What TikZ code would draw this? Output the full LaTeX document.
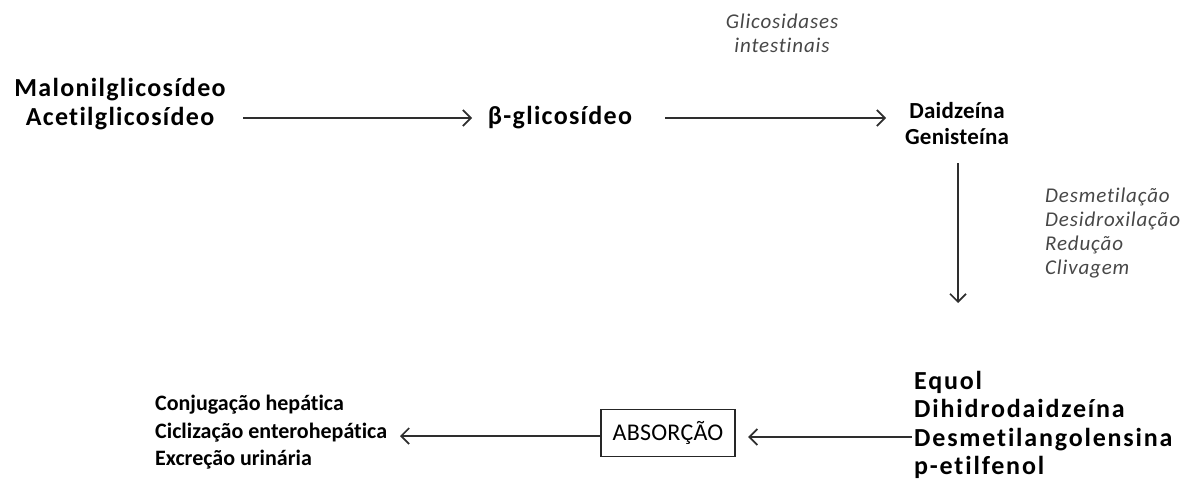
\documentclass[tikz,border=0pt]{standalone}
\usepackage{fontspec}
\setmainfont[Ligatures=NoCommon]{Carlito}
\newfontfamily\lswide[Ligatures=NoCommon,LetterSpace=5]{Carlito}
\newfontfamily\lsright[Ligatures=NoCommon,LetterSpace=7]{Carlito}
\newfontfamily\lsmid[Ligatures=NoCommon,LetterSpace=1]{Carlito}
\newfontfamily\lsnote[Ligatures=NoCommon,LetterSpace=4]{Carlito}
\newfontfamily\lslow[Ligatures=NoCommon,LetterSpace=1]{Carlito}
\usetikzlibrary{arrows.meta}
\begin{document}
\begin{tikzpicture}[x=1pt,y=-1pt,
  lbl/.style={inner sep=0pt, font=\lswide\bfseries\fontsize{26}{28.5}\selectfont},
  note/.style={inner sep=0pt, font=\lsnote\itshape\fontsize{21}{24}\selectfont, text=black!72},
  arr/.style={-{Straight Barb[length=8pt,width=16pt,line width=1.7pt]}, line width=1.9pt, draw=black!82},
  boxed/.style={draw=black!85, line width=1.7pt, inner xsep=12pt, inner ysep=12pt, font=\lslow\fontsize{24}{28}\selectfont}]
\useasboundingbox (0,0) rectangle (1193,498);
\node[lbl, align=center] (src) at (120,104) {Malonilglicosídeo\\Acetilglicosídeo};
\node[lbl] (beta) at (560,118) {β-glicosídeo};
\node[lbl, align=center, font=\lsmid\bfseries\fontsize{23}{26}\selectfont] (aglic) at (957,124) {Daidzeína\\Genisteína};
\node[note, align=center] (enz) at (782,33) {Glicosidases\\intestinais};
\node[lbl, align=left, anchor=north west, font=\lsright\bfseries\fontsize{26}{28.5}\selectfont] (metab) at (914,371) {Equol\\Dihidrodaidzeína\\Desmetilangolensina\\p-etilfenol};
\node[note, align=left, anchor=west] (proc) at (1045,233) {Desmetilação\\Desidroxilação\\Redução\\Clivagem};
\node[boxed] (abs) at (668,433) {ABSORÇÃO};
\node[lbl, align=left, anchor=north west, font=\bfseries\fontsize{22}{27.5}\selectfont] (fate) at (155,395) {Conjugação hepática\\Ciclização enterohepática\\Excreção urinária};
\coordinate (a1s) at (243,118);
\coordinate (a1e) at (472,118);
\coordinate (a2s) at (665,118);
\coordinate (a2e) at (886,118);
\coordinate (vtop) at (958,163);
\coordinate (vbot) at (958,303);
\coordinate (a3s) at (912,437);
\coordinate (a4e) at (400,436);
\draw[arr] (a1s) -- (a1e);
\draw[arr] (a2s) -- (a2e);
\draw[arr] (vtop) -- (vbot);
\draw[arr, shorten >=12pt] (a3s) -- (abs.east |- a3s);
\draw[arr] (abs.west |- a4e) -- (a4e);
\end{tikzpicture}
\end{document}
